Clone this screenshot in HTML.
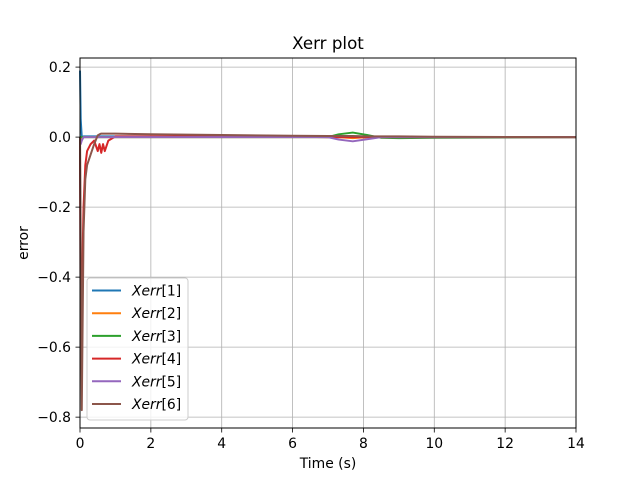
<!DOCTYPE html>
<html><head><meta charset="utf-8"><style>
body{margin:0;background:#fff;}
svg text{font-family:"DejaVu Sans","Liberation Sans",sans-serif;}
</style></head><body>
<svg id="chart" width="640" height="480" xmlns="http://www.w3.org/2000/svg">
<rect width="640" height="480" fill="#fff"/>
<g id="grid"></g><g id="series"></g><g id="axes"></g><g id="legend"></g>
</svg>
<script>
const times = [0,0.02,0.05,0.1,0.15,0.2,0.3,0.4,0.5,0.55,0.6,0.65,0.7,0.8,1,2,4,6,7,7.3,7.7,8.1,8.5,9,10,12,14];
const x1 = [0.19,0.05,0.0,0.002,0.002,0.002,0.002,0.002,0.002,0.002,0.002,0.002,0.002,0.002,0.002,0.002,0.001,0.001,0,0,0,0,0,0,0,0,0];
const x2 = [0,-0.01,-0.005,0,0,0,0,0,0,0,0,0,0,0,0,0,0,0,0,0,-0.003,0,0,0,0,0,0];
const x3 = [0,0,0,0,0,0,0,0,0,0,0,0,0,0,0,0,0,0,0,0.008,0.013,0.006,-0.002,-0.003,-0.002,-0.001,0];
const x4 = [0,-0.6,-0.45,-0.2,-0.08,-0.04,-0.02,-0.01,-0.04,-0.02,-0.045,-0.02,-0.04,-0.01,0.002,0.002,0.002,0.001,0,0,0,0,0,0,0,0,0];
const x5 = [0,-0.02,-0.01,0,0,0,0,0,0,0,0,0,0,0,0,0,0,0,0,-0.007,-0.012,-0.006,0,0,0,0,0];
const x6 = [0,-0.3,-0.78,-0.27,-0.12,-0.08,-0.05,-0.02,0.005,0.008,0.01,0.01,0.01,0.01,0.01,0.008,0.006,0.004,0.003,0.003,0.003,0.002,0.002,0.002,0.001,0.0005,0];
const seriesList=[x1,x2,x3,x4,x5,x6];
const seriesNames=["Xerr[1]","Xerr[2]","Xerr[3]","Xerr[4]","Xerr[5]","Xerr[6]"];
const colors=["#1f77b4","#ff7f0e","#2ca02c","#d62728","#9467bd","#8c564b"];
const xTicks=[0,2,4,6,8,10,12,14];
const yTicks=[0.2,0.0,-0.2,-0.4,-0.6,-0.8];
const L=80,R=576,T=58,B=428;
const xMin=0,xMax=14,yMin=-0.831,yMax=0.226;
const sx=v=>L+(v-xMin)/(xMax-xMin)*(R-L);
const sy=v=>B-(v-yMin)/(yMax-yMin)*(B-T);
const NS="http://www.w3.org/2000/svg";
function mk(tag,attrs,parent){const e=document.createElementNS(NS,tag);for(const k in attrs)e.setAttribute(k,attrs[k]);parent.appendChild(e);return e;}
const grid=document.getElementById('grid'),axes=document.getElementById('axes'),ser=document.getElementById('series'),leg=document.getElementById('legend');
xTicks.forEach(v=>{
 const g=mk('line',{x1:sx(v),x2:sx(v),y1:T,y2:B,stroke:'#b0b0b0','stroke-width':0.8},grid);
 
 
 mk('line',{x1:sx(v),x2:sx(v),y1:B,y2:B+4.5,stroke:'#000','stroke-width':0.8},axes);
 const t=mk('text',{x:sx(v),y:B+20,'text-anchor':'middle','font-size':13.9},axes);t.textContent=v;
 
 
});
yTicks.forEach(v=>{
 const g=mk('line',{x1:L,x2:R,y1:sy(v),y2:sy(v),stroke:'#b0b0b0','stroke-width':0.8},grid);
 
 
 mk('line',{x1:L-4.5,x2:L,y1:sy(v),y2:sy(v),stroke:'#000','stroke-width':0.8},axes);
 const t=mk('text',{x:L-9,y:sy(v)+5,'text-anchor':'end','font-size':13.9},axes);t.textContent=v.toFixed(1).replace('-','\u2212');
 
 
});
seriesList.forEach((s,i)=>{
 const d=s.map((v,j)=>(j?'L':'M')+sx(times[j]).toFixed(2)+','+sy(v).toFixed(2)).join(' ');
 const p=mk('path',{d:d,fill:'none',stroke:colors[i],'stroke-width':2,'stroke-linejoin':'round'},ser);
 
 
});
const fr=mk('rect',{x:L,y:T,width:R-L,height:B-T,fill:'none',stroke:'#000','stroke-width':1},axes);


const ti=mk('text',{x:(L+R)/2,y:T-9,'text-anchor':'middle','font-size':16.7},axes);ti.textContent='Xerr plot';


const xl=mk('text',{x:(L+R)/2,y:468,'text-anchor':'middle','font-size':13.9},axes);xl.textContent='Time (s)';


const yl=mk('text',{x:28,y:(T+B)/2,'text-anchor':'middle','font-size':13.9,transform:'rotate(-90 28 '+((T+B)/2)+')'},axes);yl.textContent='error';


const lb=mk('rect',{x:87,y:278,width:101,height:142,rx:3,fill:'#fff','fill-opacity':0.8,stroke:'#ccc','stroke-width':1},leg);


seriesNames.forEach((n,i)=>{
 const y=290.5+i*22.7;
 const ln=mk('line',{x1:92,x2:121,y1:y,y2:y,stroke:colors[i],'stroke-width':2},leg);
 
 
 const t=mk('text',{x:132,y:y+5,'font-size':13.9},leg);
 const m=n.match(/^(\w+)(\[.*\])$/);
 const a=mk('tspan',{'font-style':'italic'},t);a.textContent=m[1];
 const b=mk('tspan',{},t);b.textContent=m[2];
 
 
});
</script>
</body></html>
